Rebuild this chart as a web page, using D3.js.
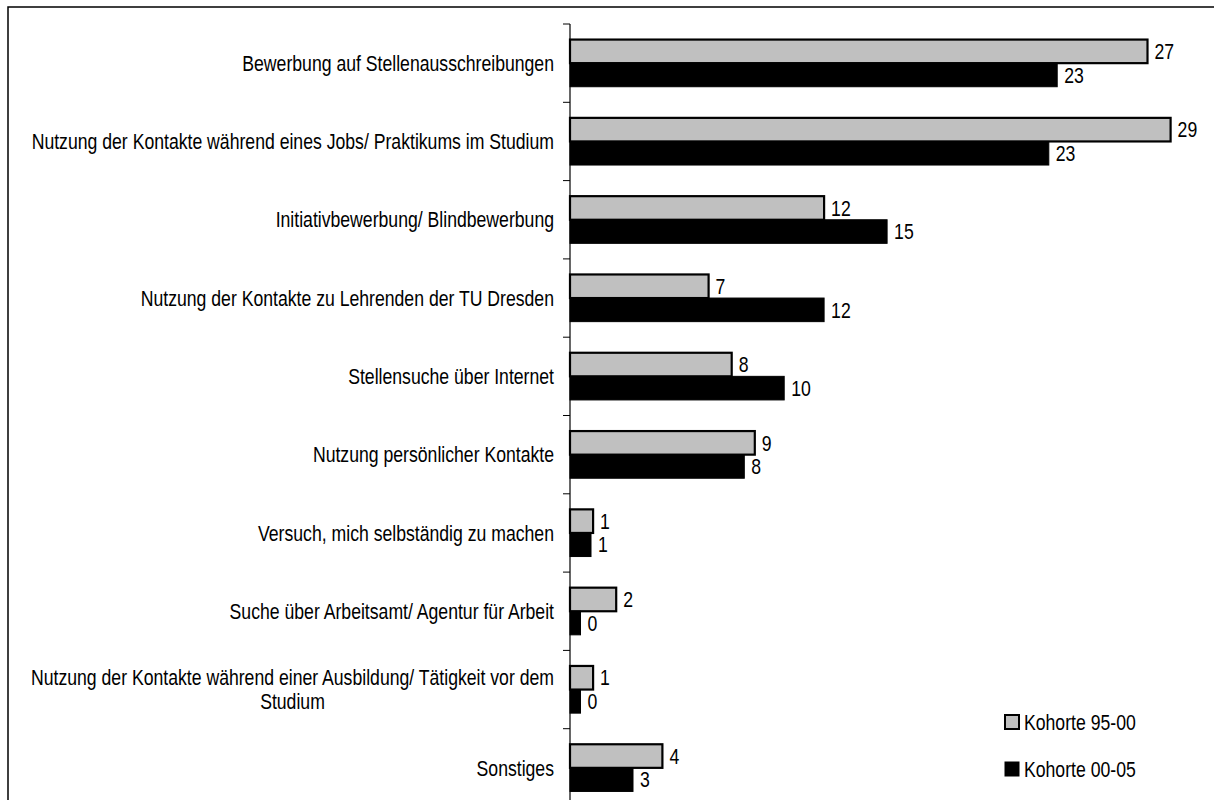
<!DOCTYPE html>
<html>
<head>
<meta charset="utf-8">
<script src="https://cdn.jsdelivr.net/npm/d3@7"></script>
<style>
  body { margin: 0; background: #fff; }
  text { font-family: "Liberation Sans", Arial, sans-serif; fill: #000; }
</style>
</head>
<body>
<script>
// categories (top to bottom), lines split with "\n"
var categories = [
    "Bewerbung auf Stellenausschreibungen",
    "Nutzung der Kontakte während eines Jobs/ Praktikums im Studium",
    "Initiativbewerbung/ Blindbewerbung",
    "Nutzung der Kontakte zu Lehrenden der TU Dresden",
    "Stellensuche über Internet",
    "Nutzung persönlicher Kontakte",
    "Versuch, mich selbständig zu machen",
    "Suche über Arbeitsamt/ Agentur für Arbeit",
    "Nutzung der Kontakte während einer Ausbildung/ Tätigkeit vor dem\nStudium",
    "Sonstiges"
];
var seriesNames = ["Kohorte 95-00", "Kohorte 00-05"];
// bar lengths (percent)
var kohorte9500 = [27.5, 28.6, 12.1, 6.6, 7.7, 8.8, 1.1, 2.2, 1.1, 4.4];
var kohorte0005 = [23.2, 22.8, 15.1, 12.1, 10.2, 8.3, 1.0, 0.5, 0.5, 3.0];
// printed value labels
var labels9500 = [27, 29, 12, 7, 8, 9, 1, 2, 1, 4];
var labels0005 = [23, 23, 15, 12, 10, 8, 1, 0, 0, 3];
var seriesColors = ["#c0c0c0", "#000000"];

var width = 1214, height = 800;
var fontSize = 21.5;
var narrowF = 0.82; // Arial Narrow ~ Arial squeezed to 82%

var svg = d3.select("body")
    .append("svg")
    .attr("width", width)
    .attr("height", height);

//squeeze a text element to look like a narrow face
function narrow(sel) {
    sel.each(function () {
        var w = this.getComputedTextLength();
        d3.select(this)
            .attr("textLength", w * narrowF)
            .attr("lengthAdjust", "spacingAndGlyphs");
    });
}

//outer frame (bottom and right run off the picture)
svg.append("rect")
    .attr("x", 8)
    .attr("y", 7)
    .attr("width", 1212)
    .attr("height", 900)
    .attr("fill", "none")
    .attr("stroke", "#000")
    .attr("stroke-width", 1.5);

var x = d3.scaleLinear()
    .domain([0, 30])
    .range([570, 1200]);

var y = d3.scaleBand()
    .domain(categories)
    .range([24, 24 + 78.3 * categories.length])
    .padding(0);

var inner = d3.scaleBand()
    .domain([0, 1])
    .range([0, y.bandwidth()])
    .paddingInner(0)
    .paddingOuter(0.66);

var rows = categories.map(function (c, i) {
    return {
        cat: c,
        vals: [
            { s: 0, v: kohorte9500[i], lab: labels9500[i] },
            { s: 1, v: kohorte0005[i], lab: labels0005[i] }
        ]
    };
});

//axis line and ticks at the band borders
var axisX = x(0);
svg.append("line")
    .attr("x1", axisX).attr("x2", axisX)
    .attr("y1", y.range()[0]).attr("y2", height)
    .attr("stroke", "#000")
    .attr("stroke-width", 1.2);

var tickPos = categories.map(function (c) { return y(c); });
svg.selectAll(".tick")
    .data(tickPos)
    .enter().append("line")
    .attr("class", "tick")
    .attr("x1", axisX - 7).attr("x2", axisX)
    .attr("y1", function (d) { return d; })
    .attr("y2", function (d) { return d; })
    .attr("stroke", "#000")
    .attr("stroke-width", 1);

//bars
var groups = svg.selectAll(".grp")
    .data(rows)
    .enter().append("g")
    .attr("class", "grp")
    .attr("transform", function (d) { return "translate(0," + y(d.cat) + ")"; });

groups.selectAll("rect")
    .data(function (d) { return d.vals; })
    .enter().append("rect")
    .attr("x", x(0))
    .attr("y", function (d) { return inner(d.s); })
    .attr("width", function (d) { return x(d.v) - x(0); })
    .attr("height", inner.bandwidth())
    .attr("fill", function (d) { return seriesColors[d.s]; })
    .attr("stroke", "#000")
    .attr("stroke-width", function (d) { return d.s == 0 ? 2.2 : 1; });

groups.selectAll(".val")
    .data(function (d) { return d.vals; })
    .enter().append("text")
    .attr("class", "val")
    .attr("x", function (d) { return x(d.v) + 7; })
    .attr("y", function (d) { return inner(d.s) + inner.bandwidth() / 2; })
    .attr("dy", "0.36em")
    .attr("font-size", fontSize)
    .text(function (d) { return d.lab; })
    .call(narrow);

//category labels, right aligned block, lines centred within it
var labelRight = 554;
svg.selectAll(".cat")
    .data(categories)
    .enter().append("g")
    .attr("class", "cat")
    .each(function (c) {
        var g = d3.select(this);
        var lines = c.split("\n");
        var lineH = 24;
        var cy = y(c) + y.bandwidth() / 2;
        var texts = lines.map(function (l, i) {
            return g.append("text")
                .attr("font-size", fontSize)
                .attr("text-anchor", "middle")
                .attr("y", cy + (i - (lines.length - 1) / 2) * lineH)
                .attr("dy", "0.36em")
                .text(l);
        });
        var maxW = d3.max(texts, function (t) { return t.node().getComputedTextLength(); }) * narrowF;
        texts.forEach(function (t) {
            t.attr("x", labelRight - maxW / 2).call(narrow);
        });
    });

//legend
var legend = svg.selectAll(".legend")
    .data(seriesNames)
    .enter().append("g")
    .attr("class", "legend")
    .attr("transform", function (d, i) { return "translate(1005," + (715 + i * 47) + ")"; });

legend.append("rect")
    .attr("width", 14)
    .attr("height", 14)
    .attr("fill", function (d, i) { return seriesColors[i]; })
    .attr("stroke", "#000")
    .attr("stroke-width", function (d, i) { return i == 0 ? 2 : 1; });

legend.append("text")
    .attr("x", 19)
    .attr("y", 7)
    .attr("dy", "0.36em")
    .attr("font-size", fontSize)
    .text(function (d) { return d; })
    .call(narrow);
</script>
</body>
</html>
